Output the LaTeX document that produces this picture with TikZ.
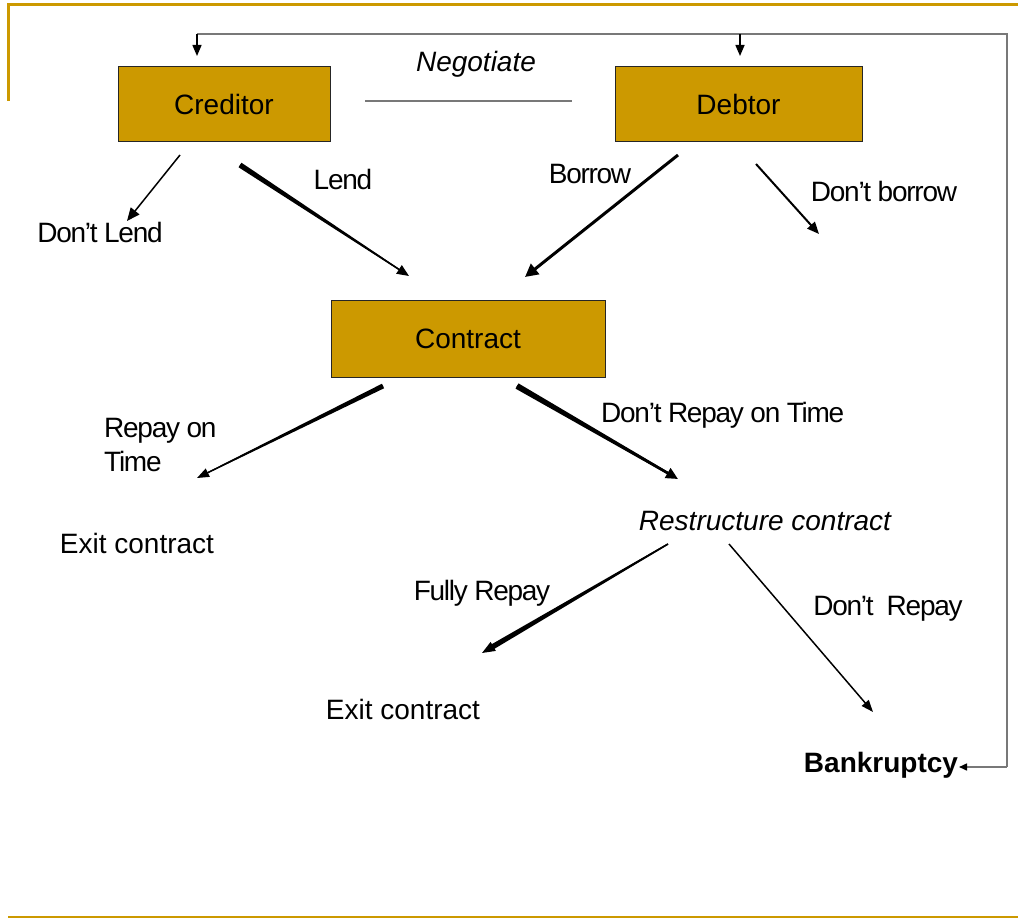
\documentclass[tikz,border=0pt]{standalone}
\usepackage{fontspec}
\setmainfont{Liberation Sans}
\newfontfamily\tightfont[LetterSpace=-4.5]{Liberation Sans}
\usetikzlibrary{arrows.meta,calc}
\definecolor{gold}{RGB}{204,153,0}
\definecolor{fbgray}{RGB}{120,120,120}
% tapered shaft: start, end, half width at start, half width at end, distance kept free before end
\newcommand\taper[5]{%
  \coordinate (tpB) at ($(#2)!#5!(#1)$);
  \fill ($(#1)!#3!90:(#2)$) -- ($(tpB)!#4!-90:(#1)$) -- ($(tpB)!#4!90:(#1)$) -- ($(#1)!#3!-90:(#2)$) -- cycle;}
\tikzset{
  box/.style={draw=black!85, line width=1pt, fill=gold, inner sep=0pt, font=\fontsize{28}{33}\selectfont},
  lbl/.style={inner sep=0pt, font=\fontsize{28}{33}\selectfont},
  tlbl/.style={inner sep=0pt, font=\fontsize{28}{33}\tightfont},
  conn/.style={draw=black},
  fbline/.style={draw=fbgray, line width=1.5pt},
}
\begin{document}
\begin{tikzpicture}[x=1pt,y=-1pt]
\useasboundingbox (0,0) rectangle (1018,920);
% frame
\draw[gold, line width=3pt] (8,101) -- (8,5) -- (1018,5);
\draw[gold, line width=2pt] (8,917) -- (1018,917);

% boxes
\node[box, minimum width=212pt, minimum height=75pt] (cred) at (224,104.5) {Creditor};
\node[box, minimum width=247pt, minimum height=75pt] (debt) at (738.5,104.5) {Debtor};
\node[box, minimum width=274pt, minimum height=76pt] (contr) at (468,339) {Contract};

% labels
\node[lbl] (neg) at (476,64) {\itshape Negotiate};
\node[tlbl] (lend) at (343,179) {Lend};
\node[tlbl] (dlend) at (100,232) {Don’t Lend};
\node[tlbl] (borrow) at (590,174) {Borrow};
\node[tlbl] (dborrow) at (884,191) {Don’t borrow};
\node[tlbl, align=left, anchor=north west, font=\fontsize{28}{34}\tightfont] (rot) at (104,418) {Repay on\\Time};
\node[lbl] (exit1) at (137,543) {Exit contract};
\node[tlbl, anchor=west] (drot) at (601,415) {Don’t Repay on Time};
\node[lbl] (restr) at (765,521) {\itshape Restructure contract};
\node[tlbl] (fully) at (482,593) {Fully Repay};
\node[tlbl] (drepay) at (888,609) {Don’t\ \ Repay};
\node[lbl] (exit2) at (403,709) {Exit contract};
\node[lbl, font=\fontsize{28}{33}\selectfont\bfseries] (bk) at (881,765) {Bankruptcy};

% negotiate line
\coordinate (nL) at (365,101);
\coordinate (nR) at (572,101);
\draw[fbline] (nL) -- (nR);

% feedback loop
\coordinate (fbB) at (1007,767);
\coordinate (fbR) at (1007,34);
\coordinate (fbL) at (197,34);
\coordinate (fbD) at (740,34);
\coordinate (credIn) at (197,56);
\coordinate (debtIn) at (740,56);
\coordinate (bkIn) at (959,767);
\draw[fbline] (fbB) -- (fbR) -- (fbL);
\draw[line width=1.5pt, -{Triangle[length=11pt,width=9pt]}] (fbL) -- (credIn);
\draw[line width=1.5pt, -{Triangle[length=11pt,width=9pt]}] (fbD) -- (debtIn);
\draw[fbline, -{Triangle[length=8pt,width=7pt,color=black]}] (fbB) -- (bkIn);

% arrow end points
\coordinate (dlS) at (180,155);  \coordinate (dlE) at (127,221);
\coordinate (lS) at (240,165);   \coordinate (lE) at (409,276);
\coordinate (bS) at (678,155);   \coordinate (bE) at (525,277);
\coordinate (dbS) at (756,164);  \coordinate (dbE) at (819,234);
\coordinate (rS) at (383,386);   \coordinate (rE) at (197,478);
\coordinate (drS) at (517,386);  \coordinate (drE) at (678,479);
\coordinate (fS) at (668,544);   \coordinate (fE) at (482,653);
\coordinate (dpS) at (729,544);  \coordinate (dpE) at (873,712);

% Creditor arrows
\draw[conn, line width=1.5pt, -{Triangle[length=13pt,width=11pt]}] (dlS) -- (dlE);
\draw[conn, line width=1.4pt, -{Triangle[length=12pt,width=10pt]}] (lS) -- (lE);
\taper{lS}{lE}{2.7pt}{0.7pt}{12pt}
% Debtor arrows
\draw[conn, line width=3pt, -{Triangle[length=13pt,width=13pt]}] (bS) -- (bE);
\draw[conn, line width=2pt, -{Triangle[length=12pt,width=10pt]}] (dbS) -- (dbE);
% Contract arrows
\draw[conn, line width=1.3pt, -{Triangle[length=12pt,width=9pt]}] (rS) -- (rE);
\taper{rS}{rE}{2.5pt}{0.65pt}{12pt}
\draw[conn, line width=2.5pt, -{Triangle[length=12pt,width=11pt]}] (drS) -- (drE);
\taper{drS}{drE}{3pt}{1.25pt}{12pt}
% Restructure arrows
\draw[conn, line width=1.5pt, -{Triangle[length=13pt,width=10pt]}] (fS) -- (fE);
\taper{fS}{fE}{0.75pt}{2.7pt}{10pt}
\draw[conn, line width=1.5pt, -{Triangle[length=12pt,width=9pt]}] (dpS) -- (dpE);
\end{tikzpicture}
\end{document}
